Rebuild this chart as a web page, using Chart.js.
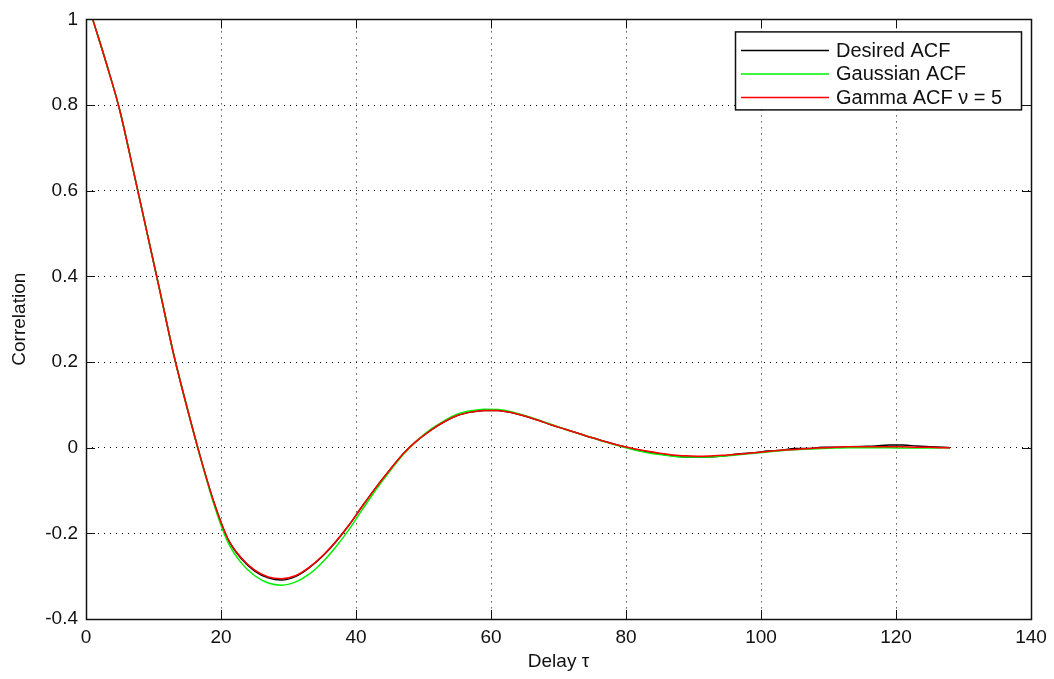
<!DOCTYPE html>
<html>
<head>
<meta charset="utf-8">
<script src="https://cdn.jsdelivr.net/npm/chart.js@4"></script>
<style>
  html, body { margin: 0; padding: 0; background: #fff; }
  #wrap { width: 1054px; height: 679px; }
</style>
</head>
<body>
<div id="wrap"><canvas id="acfChart" width="1054" height="679"></canvas></div>
<script>
// lag values (delay tau)
const lags = [1, 3, 5, 7, 9, 11, 13, 15, 17, 19, 21, 23, 25, 27, 29, 31, 33, 35, 37, 39,
  41, 43, 45, 47, 49, 51, 53, 55, 57, 59, 61, 63, 65, 67, 69, 71, 73, 75, 77, 79,
  81, 83, 85, 87, 89, 91, 93, 95, 97, 99, 101, 103, 105, 107, 109, 111, 113, 115, 117, 119,
  121, 123, 125, 127, 128];

const desiredAcf = [1.0, 0.898, 0.788, 0.648, 0.505, 0.362, 0.217, 0.092, -0.025, -0.130,
  -0.213, -0.259, -0.288, -0.304, -0.309, -0.301, -0.281, -0.254, -0.220, -0.180,
  -0.135, -0.092, -0.052, -0.014, 0.016, 0.040, 0.060, 0.075, 0.083, 0.087,
  0.087, 0.082, 0.074, 0.064, 0.053, 0.043, 0.033, 0.023, 0.014, 0.005,
  -0.003, -0.009, -0.014, -0.019, -0.022, -0.022, -0.021, -0.018, -0.014, -0.012,
  -0.008, -0.006, -0.002, -0.002, 0.001, 0.001, 0.002, 0.003, 0.004, 0.006,
  0.006, 0.004, 0.002, 0.001, 0.0];

const gaussianAcf = [1.0, 0.898, 0.788, 0.648, 0.505, 0.362, 0.217, 0.092, -0.026, -0.135,
  -0.220, -0.269, -0.299, -0.316, -0.321, -0.314, -0.296, -0.268, -0.232, -0.190,
  -0.143, -0.097, -0.055, -0.016, 0.016, 0.042, 0.062, 0.078, 0.086, 0.090,
  0.089, 0.084, 0.075, 0.065, 0.054, 0.043, 0.033, 0.023, 0.013, 0.004,
  -0.004, -0.011, -0.016, -0.020, -0.022, -0.022, -0.021, -0.019, -0.016, -0.013,
  -0.010, -0.007, -0.005, -0.003, -0.002, -0.001, 0.0, 0.0, 0.0, 0.0,
  -0.001, -0.001, -0.001, 0.0, 0.0];

const gammaAcf = [1.0, 0.898, 0.788, 0.648, 0.505, 0.362, 0.217, 0.092, -0.025, -0.130,
  -0.212, -0.257, -0.286, -0.302, -0.306, -0.299, -0.280, -0.253, -0.219, -0.180,
  -0.135, -0.092, -0.052, -0.014, 0.016, 0.040, 0.060, 0.075, 0.083, 0.087,
  0.087, 0.082, 0.074, 0.064, 0.053, 0.043, 0.033, 0.023, 0.014, 0.005,
  -0.002, -0.008, -0.013, -0.017, -0.019, -0.020, -0.019, -0.017, -0.015, -0.012,
  -0.009, -0.006, -0.004, -0.002, 0.0, 0.001, 0.002, 0.002, 0.002, 0.002,
  0.002, 0.001, 0.001, 0.0, 0.0];

const seriesNames = ['Desired ACF', 'Gaussian ACF', 'Gamma ACF \u03bd = 5'];
const seriesColors = ['#000000', '#00f000', '#ff0000'];

const xTicks = [0, 20, 40, 60, 80, 100, 120, 140];
const yTicks = [-0.4, -0.2, 0, 0.2, 0.4, 0.6, 0.8, 1];
const yTickLabels = ['-0.4', '-0.2', '0', '0.2', '0.4', '0.6', '0.8', '1'];

const FONT = '"Liberation Sans", Arial, Helvetica, sans-serif';

function toPoints(values) {
    return lags.map((t, i) => ({ x: t, y: values[i] }));
}

// axes box with inward tick marks, MATLAB style
const framePlugin = {
    id: 'frame',
    afterDatasetsDraw(chart) {
        const { ctx, chartArea: a, scales: { x, y } } = chart;
        const len = 9;
        ctx.save();
        ctx.strokeStyle = '#111';
        ctx.lineWidth = 1;
        ctx.beginPath();
        xTicks.forEach(v => {
            const px = Math.round(x.getPixelForValue(v)) + 0.5;
            ctx.moveTo(px, a.bottom); ctx.lineTo(px, a.bottom - len);
            ctx.moveTo(px, a.top); ctx.lineTo(px, a.top + len);
        });
        yTicks.forEach(v => {
            const py = Math.round(y.getPixelForValue(v)) + 0.5;
            ctx.moveTo(a.left, py); ctx.lineTo(a.left + len, py);
            ctx.moveTo(a.right, py); ctx.lineTo(a.right - len, py);
        });
        ctx.stroke();
        ctx.lineWidth = 1.5;
        ctx.strokeRect(Math.round(a.left) + 0.5, Math.round(a.top) + 0.5,
            Math.round(a.right - a.left), Math.round(a.bottom - a.top));
        ctx.restore();
    }
};

// boxed legend inside the upper right corner
const boxLegendPlugin = {
    id: 'boxLegend',
    afterDraw(chart) {
        const { ctx, chartArea: a } = chart;
        const right = a.right - 10, top = a.top + 12;
        const w = 286, h = 78;
        const left = right - w;
        ctx.save();
        ctx.fillStyle = '#fff';
        ctx.fillRect(left, top, w, h);
        ctx.strokeStyle = '#111';
        ctx.lineWidth = 1.5;
        ctx.strokeRect(left + 0.5, top + 0.5, w, h);
        ctx.font = '20px ' + FONT;
        ctx.textBaseline = 'middle';
        chart.data.datasets.forEach((ds, i) => {
            const yy = top + 19 + i * 23.5;
            ctx.strokeStyle = ds.borderColor;
            ctx.lineWidth = 1.5;
            ctx.beginPath();
            ctx.moveTo(left + 6, yy);
            ctx.lineTo(left + 94, yy);
            ctx.stroke();
            ctx.fillStyle = '#111';
            ctx.fillText(ds.label, left + 101, yy + 1);
        });
        ctx.restore();
    }
};

const ctx = document.getElementById('acfChart').getContext('2d');
new Chart(ctx, {
    type: 'line',
    data: {
        datasets: [
            { label: seriesNames[0], data: toPoints(desiredAcf), borderColor: seriesColors[0], order: 3 },
            { label: seriesNames[1], data: toPoints(gaussianAcf), borderColor: seriesColors[1], order: 2 },
            { label: seriesNames[2], data: toPoints(gammaAcf), borderColor: seriesColors[2], order: 1 }
        ]
    },
    options: {
        responsive: false,
        animation: false,
        devicePixelRatio: 1,
        elements: {
            line: { borderWidth: 1.5, cubicInterpolationMode: 'monotone', fill: false },
            point: { radius: 0 }
        },
        layout: { padding: { top: 18, right: 23, left: 0, bottom: 0 } },
        scales: {
            x: {
                type: 'linear',
                min: 0,
                max: 140,
                afterBuildTicks: (scale) => { scale.ticks = xTicks.map(v => ({ value: v })); },
                afterFit: (scale) => { scale.height = 60; },
                ticks: {
                    color: '#111',
                    padding: 7,
                    maxRotation: 0,
                    font: { family: FONT, size: 19 },
                    callback: (v, i) => String(xTicks[i])
                },
                grid: {
                    color: '#000',
                    lineWidth: 1,
                    drawTicks: false
                },
                border: { display: false, dash: [1, 5] },
                title: {
                    display: true,
                    text: 'Delay \u03c4',
                    color: '#111',
                    font: { family: FONT, size: 19 },
                    padding: { top: 0, bottom: 6 }
                }
            },
            y: {
                type: 'linear',
                min: -0.4,
                max: 1,
                afterBuildTicks: (scale) => { scale.ticks = yTicks.map(v => ({ value: v })); },
                afterFit: (scale) => { scale.width = 86; },
                ticks: {
                    color: '#111',
                    padding: 8,
                    font: { family: FONT, size: 19 },
                    callback: (v, i) => yTickLabels[i]
                },
                grid: {
                    color: '#000',
                    lineWidth: 1,
                    drawTicks: false
                },
                border: { display: false, dash: [1, 5] },
                title: {
                    display: true,
                    text: 'Correlation',
                    color: '#111',
                    font: { family: FONT, size: 19 },
                    padding: { top: 8, bottom: 0 }
                }
            }
        },
        plugins: {
            legend: { display: false },
            tooltip: { enabled: false }
        }
    },
    plugins: [framePlugin, boxLegendPlugin]
});
</script>
</body>
</html>
